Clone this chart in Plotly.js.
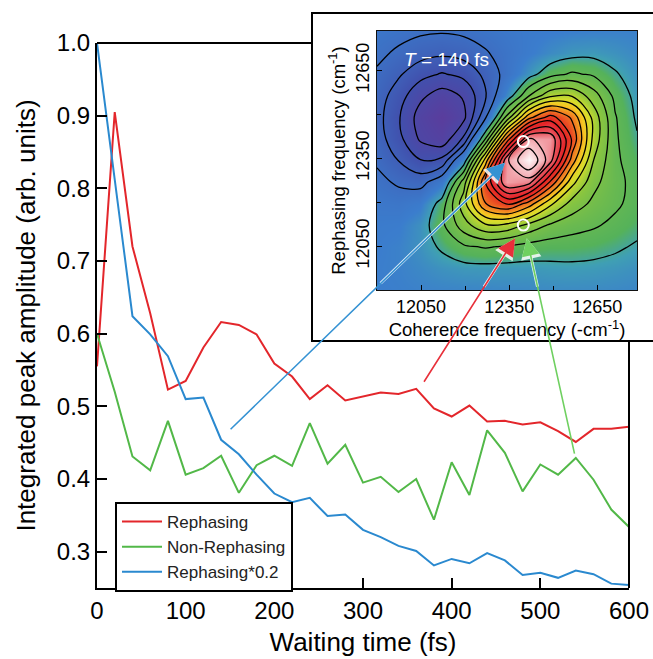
<!DOCTYPE html>
<html><head><meta charset="utf-8">
<script src="https://cdn.plot.ly/plotly-3.0.1.min.js"></script>
<style>html,body{margin:0;padding:0;background:#fff}#chart{width:653px;height:659px}</style>
</head><body><div id="chart"></div>
<script>
// ---------- main panel data ----------
const waitingTime = [0,20,40,60,80,100,120,140,160,180,200,220,240,260,280,300,320,340,360,380,400,420,440,460,480,500,520,540,560,580,600];
const rephasing = [0.555,0.905,0.72,0.628,0.523,0.535,0.581,0.616,0.612,0.599,0.559,0.541,0.51,0.529,0.508,0.514,0.519,0.517,0.524,0.497,0.486,0.501,0.479,0.48,0.475,0.478,0.466,0.451,0.469,0.469,0.472];
const nonRephasing = [0.60,0.52,0.431,0.412,0.48,0.406,0.415,0.432,0.381,0.419,0.432,0.418,0.477,0.421,0.447,0.395,0.403,0.382,0.40,0.344,0.423,0.378,0.467,0.436,0.383,0.42,0.406,0.429,0.399,0.358,0.334];
const rephasingScaled = [1.0,0.812,0.624,0.599,0.569,0.51,0.512,0.454,0.434,0.406,0.38,0.368,0.374,0.349,0.351,0.33,0.32,0.308,0.301,0.281,0.29,0.284,0.298,0.288,0.268,0.271,0.264,0.274,0.269,0.256,0.254];
const seriesNames = ['Rephasing','Non-Rephasing','Rephasing*0.2'];
const xTickVals = [0,100,200,300,400,500,600];
const yTickVals = [0.3,0.4,0.5,0.6,0.7,0.8,0.9,1.0];

// ---------- inset 2D spectrum (T = 140 fs) ----------
const cohFreq  = [11900,11974,12048,12121,12195,12269,12343,12416,12490,12564,12638,12711,12785];
const rephFreq = [11900,11974,12048,12121,12195,12269,12343,12416,12490,12564,12638,12711,12785];
const spectrum = [
 [0.000,0.003,0.007,0.010,0.012,0.013,0.016,0.018,0.021,0.022,0.021,0.018,0.014],
 [0.001,0.006,0.018,0.034,0.044,0.046,0.045,0.045,0.049,0.051,0.048,0.041,0.031],
 [-0.002,0.007,0.032,0.076,0.120,0.136,0.123,0.106,0.098,0.097,0.090,0.076,0.057],
 [-0.008,-0.003,0.031,0.115,0.232,0.313,0.304,0.240,0.185,0.156,0.138,0.114,0.086],
 [-0.023,-0.029,-0.008,0.094,0.300,0.517,0.593,0.493,0.340,0.233,0.179,0.142,0.106],
 [-0.046,-0.076,-0.090,-0.017,0.225,0.586,0.843,0.812,0.577,0.347,0.215,0.150,0.107],
 [-0.075,-0.132,-0.192,-0.177,0.021,0.419,0.834,0.988,0.805,0.491,0.258,0.143,0.092],
 [-0.098,-0.176,-0.270,-0.305,-0.183,0.134,0.551,0.848,0.834,0.576,0.302,0.140,0.071],
 [-0.105,-0.189,-0.289,-0.343,-0.277,-0.075,0.218,0.496,0.613,0.508,0.299,0.135,0.055],
 [-0.096,-0.165,-0.246,-0.291,-0.253,-0.139,0.021,0.189,0.311,0.319,0.224,0.112,0.044],
 [-0.074,-0.121,-0.172,-0.200,-0.177,-0.114,-0.039,0.037,0.105,0.139,0.119,0.072,0.031],
 [-0.049,-0.076,-0.103,-0.115,-0.103,-0.071,-0.037,-0.006,0.021,0.041,0.045,0.033,0.017],
 [-0.029,-0.042,-0.054,-0.059,-0.052,-0.038,-0.023,-0.011,-0.004,0.001,0.004,0.006,0.005]
];
const insetTicks = [12050,12350,12650];
const insetMinorTicks = [12200,12500];
const markerCoh  = [12398,12398];
const markerReph = [12407,12122];

// ---------- helpers ----------
const W = 653, H = 659;
const fx = p => p / W;
const fy = p => 1 - p / H;
const FONT = 'Liberation Sans, Arial, Helvetica, sans-serif';

const colorscale = [
  [0.00,'#5b3c9c'],[0.12,'#4150ad'],[0.259,'#3b7dcd'],[0.30,'#3f9fb4'],
  [0.33,'#55b25a'],[0.45,'#8cc63e'],[0.52,'#d6dd2c'],[0.57,'#f5c623'],
  [0.62,'#f28a22'],[0.68,'#ea4b23'],[0.74,'#e42226'],[0.82,'#e8525c'],
  [0.90,'#f4b4ba'],[1.00,'#ffffff']
];

const red = '#e3262b', green = '#52b848', blue = '#2a89cf';

const traces = [
  {x: waitingTime, y: rephasing, name: seriesNames[0], mode: 'lines', line: {color: red, width: 2}, xaxis: 'x', yaxis: 'y'},
  {x: waitingTime, y: nonRephasing, name: seriesNames[1], mode: 'lines', line: {color: green, width: 2}, xaxis: 'x', yaxis: 'y'},
  {x: waitingTime, y: rephasingScaled, name: seriesNames[2], mode: 'lines', line: {color: blue, width: 2}, xaxis: 'x', yaxis: 'y'},
  {type: 'heatmap', x: cohFreq, y: rephFreq, z: spectrum, zsmooth: 'best', colorscale: colorscale,
   zmin: -0.35, zmax: 1.0, showscale: false, showlegend: false, hoverinfo: 'skip', xaxis: 'x2', yaxis: 'y2'},
  {type: 'contour', x: cohFreq, y: rephFreq, z: spectrum, autocontour: false,
   contours: {coloring: 'none', start: -0.26, end: -0.065, size: 0.065},
   line: {color: '#000', width: 1.3, smoothing: 1}, showscale: false, showlegend: false, hoverinfo: 'skip', xaxis: 'x2', yaxis: 'y2'},
  {type: 'contour', x: cohFreq, y: rephFreq, z: spectrum, autocontour: false,
   contours: {coloring: 'none', start: 0.065, end: 0.91, size: 0.065},
   line: {color: '#000', width: 1.3, smoothing: 1}, showscale: false, showlegend: false, hoverinfo: 'skip', xaxis: 'x2', yaxis: 'y2'},
  {x: markerCoh, y: markerReph, mode: 'markers', showlegend: false, hoverinfo: 'skip',
   marker: {symbol: 'circle-open', size: 11, color: '#ffffff', line: {width: 2, color: '#ffffff'}}, xaxis: 'x2', yaxis: 'y2'}
];

const mainAxisCommon = {
  ticks: 'inside', ticklen: 10, tickwidth: 2, tickcolor: '#000',
  showline: true, linewidth: 2, linecolor: '#000', showgrid: false, zeroline: false,
  tickfont: {size: 24, family: FONT, color: '#000'}
};

const insetAxisCommon = {
  ticks: 'inside', ticklen: 5, tickwidth: 1, tickcolor: '#000',
  showline: true, mirror: true, linewidth: 1, linecolor: '#111', showgrid: false, zeroline: false,
  tickfont: {size: 18, family: FONT, color: '#000'}, tickformat: 'd',
  range: [11900, 12785], tickvals: insetTicks,
  minor: {tickvals: insetMinorTicks, ticks: 'inside', ticklen: 4, tickcolor: '#000'}
};

// arrow helper: tip in inset coordinates, tail offset in pixels
function arrow(x, y, ax, ay, color, width, size) {
  return {xref: 'x2', yref: 'y2', x: x, y: y, ax: ax, ay: ay, text: '', showarrow: true,
          arrowhead: 2, arrowsize: size, arrowwidth: width, arrowcolor: color, standoff: 0};
}
const halo = 'rgba(255,255,255,0.85)';

const layout = {
  width: W, height: H,
  margin: {l: 0, r: 0, t: 0, b: 0},
  paper_bgcolor: '#fff', plot_bgcolor: '#fff',
  font: {family: FONT, color: '#000'},
  showlegend: true,
  legend: {x: fx(115), y: fy(502), xanchor: 'left', yanchor: 'top',
           bgcolor: '#fff', bordercolor: '#000', borderwidth: 2,
           font: {size: 17, family: FONT, color: '#222'}, itemwidth: 40, tracegroupgap: 0},
  xaxis: Object.assign({}, mainAxisCommon, {
    domain: [fx(97), fx(629)], range: [0, 600], tickvals: xTickVals, anchor: 'y',
    title: {text: 'Waiting time (fs)', font: {size: 26, family: FONT, color: '#000'}, standoff: 10}
  }),
  yaxis: Object.assign({}, mainAxisCommon, {
    domain: [fy(588), fy(43)], range: [0.25, 1.0], tickvals: yTickVals, tickformat: '.1f', anchor: 'x',
    title: {text: 'Integrated peak amplitude (arb. units)', font: {size: 26, family: FONT, color: '#000'}, standoff: 14}
  }),
  xaxis3: {overlaying: 'x', side: 'top', anchor: 'y', range: [0, 600], tickvals: [100, 200],
           ticks: 'inside', ticklen: 10, tickwidth: 2, tickcolor: '#000', showticklabels: false,
           showline: false, showgrid: false, zeroline: false},
  yaxis3: {overlaying: 'y', side: 'right', anchor: 'x', range: [0.25, 1.0], tickvals: [0.3, 0.4, 0.5],
           ticks: 'inside', ticklen: 10, tickwidth: 2, tickcolor: '#000', showticklabels: false,
           showline: false, showgrid: false, zeroline: false},
  xaxis2: Object.assign({}, insetAxisCommon, {
    domain: [fx(377), fx(637)], anchor: 'y2',
    title: {text: 'Coherence frequency (-cm<sup>-1</sup>)', font: {size: 18.5, family: FONT, color: '#000'}, standoff: 2}
  }),
  yaxis2: Object.assign({}, insetAxisCommon, {
    domain: [fy(290), fy(31)], anchor: 'x2', tickangle: -90,
    title: {text: 'Rephasing frequency (cm<sup>-1</sup>)', font: {size: 18.5, family: FONT, color: '#000'}, standoff: 2}
  }),
  shapes: [
    {type: 'rect', xref: 'paper', yref: 'paper', x0: fx(312), x1: fx(660), y0: fy(341), y1: fy(13),
     fillcolor: '#fff', line: {color: '#000', width: 2}, layer: 'below'},
    {type: 'line', xref: 'paper', yref: 'paper', x0: fx(97), x1: fx(312), y0: fy(43), y1: fy(43),
     line: {color: '#000', width: 2}, layer: 'above'},
    {type: 'line', xref: 'paper', yref: 'paper', x0: fx(629), x1: fx(629), y0: fy(588), y1: fy(341),
     line: {color: '#000', width: 2}, layer: 'above'}
  ],
  annotations: [
    {xref: 'x2', yref: 'y2', x: 12138, y: 12686, text: '<i>T</i> = 140 fs', showarrow: false,
     font: {size: 19, family: FONT, color: '#fff'}},
    // white outlines where the arrows cross the spectrum
    arrow(12336, 12335, -126, 122, halo, 3.0, 1.38),
    arrow(12370, 12077, -32, 50, halo, 3.0, 1.38),
    arrow(12410, 12077, 11, 50, halo, 3.0, 1.38),
    // coloured arrows
    arrow(12336, 12335, -276, 268, '#3592d3', 1.6, 2.2),
    arrow(12370, 12077, -92, 145, '#e8303a', 1.6, 2.2),
    arrow(12410, 12077, 48, 217, '#6fd060', 1.6, 2.2)
  ]
};

Plotly.newPlot('chart', traces, layout, {displayModeBar: false, staticPlot: true});
</script>
</body></html>
